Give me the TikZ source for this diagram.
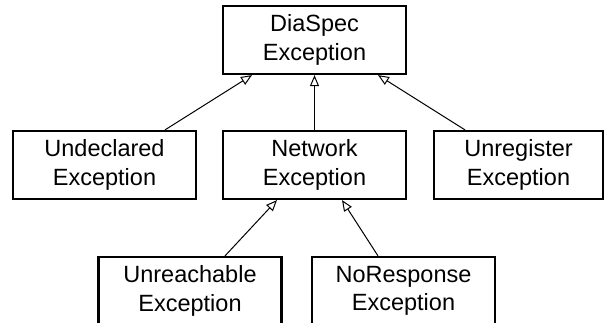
\documentclass[tikz,border=0pt]{standalone}
\usepackage{fontspec}
\setmainfont{Liberation Sans}
\usetikzlibrary{arrows.meta, positioning}
\tikzset{%
>={Triangle[open, fill=white, length=11pt, width=9pt]},
  % Specifications for style of nodes:
            exbox/.style = {rectangle, draw=black, line width=2.2pt,
                            minimum width=183pt, minimum
                            height=68pt, inner sep=0pt, align=center,
                            font=\fontsize{23.5}{28.5}\selectfont},
                            inherits/.style = {->, line width=1pt}
}
\begin{document}
\begin{tikzpicture}[x=1pt, y=-1pt]
                \clip (0,0) rectangle (605,323);

                \node[exbox] (dia) at (314.5,40) {DiaSpec\\Exception};

                \node[exbox] (undecl) at (104.5,165) {Undeclared\\Exception};
                \node[exbox] (net) at (314.5,165) {Network\\Exception};
                \node[exbox, minimum width=169pt] (unreg) at (518.5,165) {Unregister\\Exception};

                \node[exbox] (unreach) at (190,291) {Unreachable\\Exception};
                \node[exbox] (noresp) at (403.5,291) {NoResponse\\Exception};

                \draw[inherits] ([xshift=60.5pt]undecl.north) -- ([xshift=-62.5pt]dia.south);
                \draw[inherits] (net.north) -- (dia.south);
                \draw[inherits] ([xshift=-53.5pt]unreg.north) -- ([xshift=63.5pt]dia.south);

                \draw[inherits] ([xshift=35pt]unreach.north) -- ([xshift=-37.5pt]net.south);
                \draw[inherits] ([xshift=-25.5pt]noresp.north) -- ([xshift=27.5pt]net.south);

            \end{tikzpicture}
\end{document}
